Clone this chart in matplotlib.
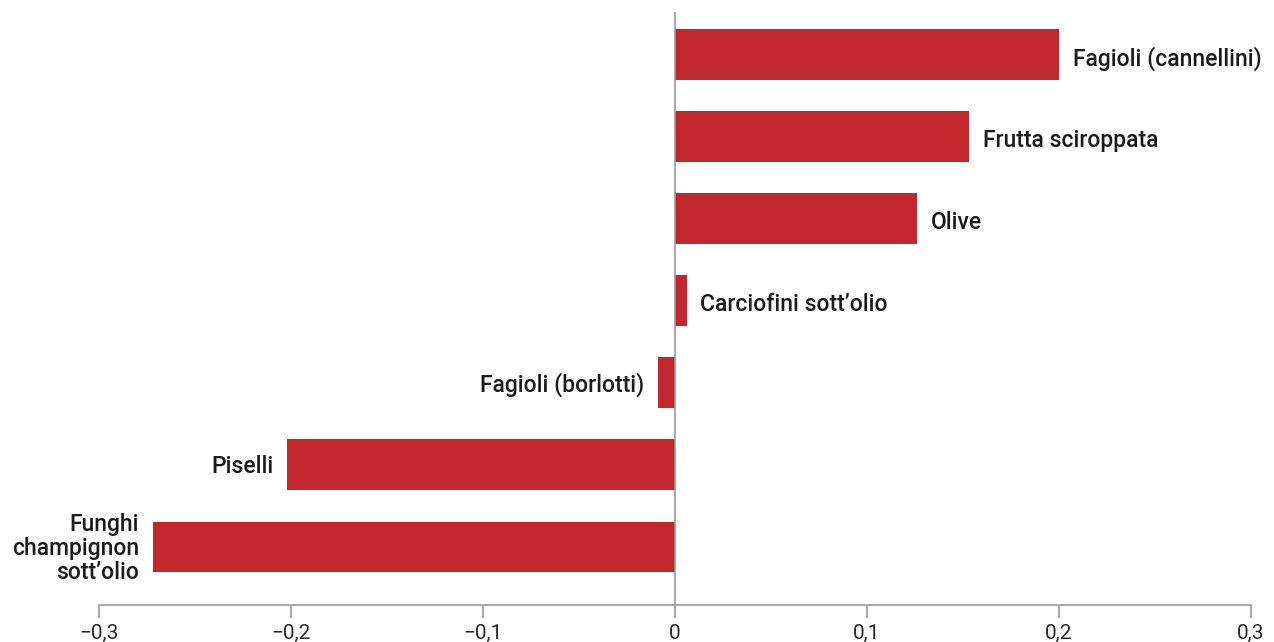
import matplotlib.pyplot as plt
import numpy as np

plt.rcParams['font.family'] = ['Roboto', 'DejaVu Sans']

categories = ['Fagioli (cannellini)', 'Frutta sciroppata', 'Olive',
              "Carciofini sott\u2019olio", 'Fagioli (borlotti)', 'Piselli',
              'Funghi\nchampignon\nsott\u2019olio']
values = [0.200, 0.153, 0.126, 0.006, -0.009, -0.202, -0.272]
tick_vals = [-0.3, -0.2, -0.1, 0, 0.1, 0.2, 0.3]
tick_labels = ['\u22120,3', '\u22120,2', '\u22120,1', '0', '0,1', '0,2', '0,3']

fig = plt.figure(figsize=(12.74, 6.42), dpi=100)
ax = fig.add_axes([99/1274, 1 - 605/642, (1251 - 99)/1274, (605 - 12)/642])

n = len(values)
y = np.arange(n)[::-1]
ax.barh(y, values, height=0.62, color='#c1272d')

ax.set_xlim(-0.3, 0.3)
ax.set_ylim(-0.707, n - 1 + 0.518)
ax.axvline(0, color='#999999', lw=1.2)

for yi, v, c in zip(y, values, categories):
    if v >= 0:
        ax.annotate(c, (v, yi), xytext=(10, -1), textcoords='offset points',
                    ha='left', va='center_baseline', fontsize=16.5, fontweight='medium', color='#1a1a1a')
    else:
        ax.annotate(c, (v, yi), xytext=(-10, -1), textcoords='offset points',
                    ha='right', va='center', fontsize=16.5, fontweight='medium', color='#1a1a1a',
                    multialignment='right', linespacing=1.05)

for s in ['top', 'right', 'left']:
    ax.spines[s].set_visible(False)
ax.spines['bottom'].set_color('#999999')
ax.spines['bottom'].set_linewidth(1.2)
ax.set_yticks([])
ax.set_xticks(tick_vals)
ax.set_xticklabels(tick_labels, fontsize=15, color='#2a2a2a')
ax.tick_params(axis='x', length=9.5, width=1.2, color='#999999', pad=4)

fig.savefig('out.png', dpi=100)
